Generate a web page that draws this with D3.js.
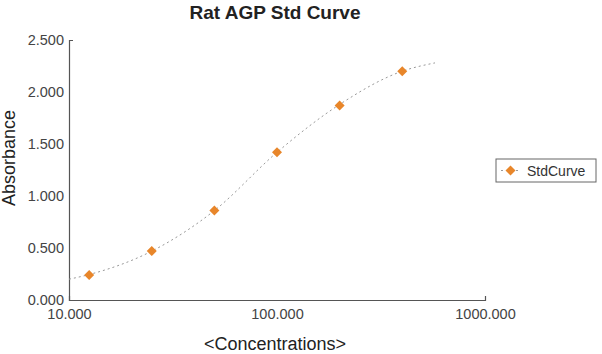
<!DOCTYPE html>
<html>
<head>
<meta charset="utf-8">
<script src="https://cdn.jsdelivr.net/npm/d3@7"></script>
<style>
  body { margin: 0; background: #fff; }
  text { font-family: "Liberation Sans", Arial, sans-serif; }
</style>
</head>
<body>
<div id="chart"></div>
<script>
// standard points
var conc = [12.5, 25, 50, 100, 200, 400];
var absorb = [0.24, 0.47, 0.86, 1.42, 1.87, 2.20];

// fitted curve
var curveConc = [10, 12.5, 25, 50, 100, 200, 400, 575];
var curveAbs = [0.20, 0.245, 0.47, 0.86, 1.42, 1.88, 2.20, 2.28];

var xTicks = [10, 100, 1000];
var yTicks = [0, 0.5, 1, 1.5, 2, 2.5];

var width = 602, height = 354;
var svg = d3.select("#chart").append("svg")
  .attr("width", width)
  .attr("height", height);

var x = d3.scaleLog().domain([10, 1000]).range([69, 485]);
var y = d3.scaleLinear().domain([0, 2.5]).range([300, 40]);
var fmt = d3.format(".3f");

// axes
var xAxis = svg.append("g")
  .attr("transform", "translate(0,300)")
  .call(d3.axisBottom(x).tickValues(xTicks).tickFormat(fmt).tickSizeInner(0).tickSizeOuter(-4).tickPadding(9));
var yAxis = svg.append("g")
  .attr("transform", "translate(69,0)")
  .call(d3.axisLeft(y).tickValues(yTicks).tickFormat(fmt).tickSizeInner(0).tickSizeOuter(-4).tickPadding(5));

[xAxis, yAxis].forEach(function(a) {
  a.select(".domain").attr("stroke", "#555").attr("stroke-width", 1.2);
  a.selectAll("text").attr("fill", "#444").style("font-size", "14.5px");
});

// curve
var line = d3.line()
  .x(function(d) { return x(d[0]); })
  .y(function(d) { return y(d[1]); })
  .curve(d3.curveMonotoneX);

svg.append("path")
  .datum(d3.zip(curveConc, curveAbs))
  .attr("d", line)
  .attr("fill", "none")
  .attr("stroke", "#999")
  .attr("stroke-width", 1)
  .attr("stroke-dasharray", "2,3");

// markers (square turned 45 degrees)
var diamond = "M0,-5L5,0L0,5L-5,0Z";
svg.selectAll(".pt")
  .data(d3.zip(conc, absorb))
  .enter()
  .append("path")
  .attr("class", "pt")
  .attr("d", diamond)
  .attr("fill", "#e8862a")
  .attr("transform", function(d) {
    return "translate(" + x(d[0]) + "," + y(d[1]) + ")";
  });

// title and labels
svg.append("text")
  .attr("x", 275)
  .attr("y", 19)
  .attr("text-anchor", "middle")
  .style("font-size", "19px")
  .style("font-weight", "bold")
  .attr("fill", "#222")
  .text("Rat AGP Std Curve");

svg.append("text")
  .attr("x", 275)
  .attr("y", 350)
  .attr("text-anchor", "middle")
  .style("font-size", "18px")
  .attr("fill", "#222")
  .text("<Concentrations>");

svg.append("text")
  .attr("transform", "translate(15,158) rotate(-90)")
  .attr("text-anchor", "middle")
  .style("font-size", "18px")
  .attr("fill", "#222")
  .text("Absorbance");

// legend
var lg = svg.append("g").attr("transform", "translate(496,159)");
lg.append("rect")
  .attr("width", 100)
  .attr("height", 23)
  .attr("fill", "#fff")
  .attr("stroke", "#666");
lg.append("line")
  .attr("x1", 5).attr("x2", 24)
  .attr("y1", 11.5).attr("y2", 11.5)
  .attr("stroke", "#999")
  .attr("stroke-dasharray", "2,3");
lg.append("path")
  .attr("d", diamond)
  .attr("fill", "#e8862a")
  .attr("transform", "translate(14.5,11.5)");
lg.append("text")
  .attr("x", 31)
  .attr("y", 16.5)
  .style("font-size", "14px")
  .attr("fill", "#333")
  .text("StdCurve");
</script>
</body>
</html>
